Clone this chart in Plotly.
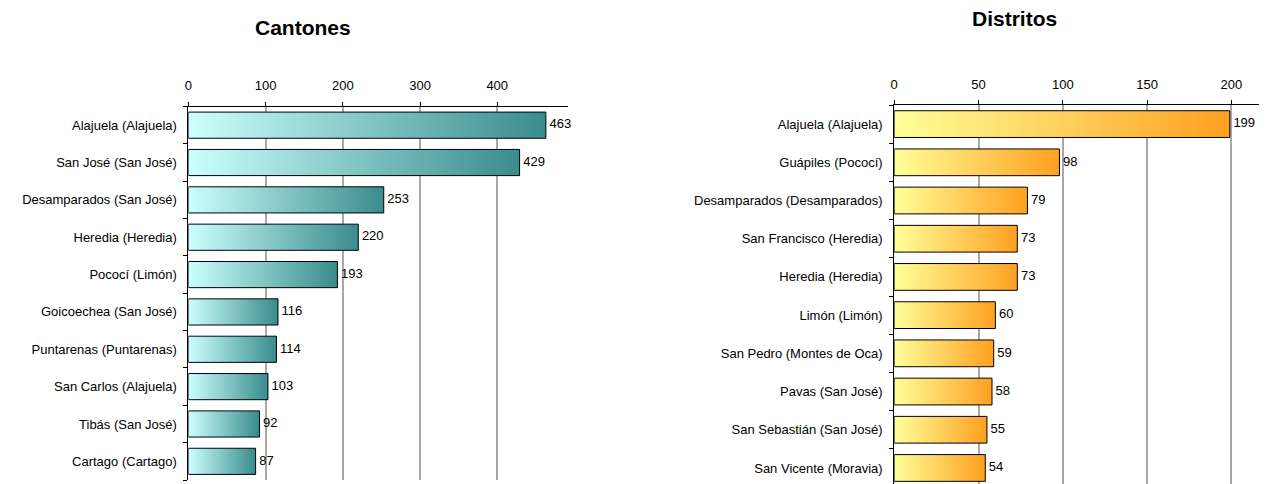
import plotly.graph_objects as go

# datos
cantones = ["Alajuela (Alajuela)", "San José (San José)", "Desamparados (San José)",
            "Heredia (Heredia)", "Pococí (Limón)", "Goicoechea (San José)",
            "Puntarenas (Puntarenas)", "San Carlos (Alajuela)", "Tibás (San José)",
            "Cartago (Cartago)"]
valores_cantones = [463, 429, 253, 220, 193, 116, 114, 103, 92, 87]

distritos = ["Alajuela (Alajuela)", "Guápiles (Pococí)", "Desamparados (Desamparados)",
             "San Francisco (Heredia)", "Heredia (Heredia)", "Limón (Limón)",
             "San Pedro (Montes de Oca)", "Pavas (San José)", "San Sebastián (San José)",
             "San Vicente (Moravia)"]
valores_distritos = [199, 98, 79, 73, 73, 60, 59, 58, 55, 54]

FONT = "Liberation Sans, Arial, sans-serif"
MEDIO = 0.35  # media altura de la barra
W, H = 1267, 484
OFF = 8  # margen del body en la pagina


def px_x(v):
    return (v - OFF) / W


def px_y(v):
    return 1 - (v - OFF) / H


fig = go.Figure()


def agregar_barras(nombres, valores, xa, ya, claro, oscuro):
    for i, v in enumerate(valores):
        fig.add_trace(go.Scatter(
            x=[0, v, v, 0, 0],
            y=[i - MEDIO, i - MEDIO, i + MEDIO, i + MEDIO, i - MEDIO],
            xaxis=xa, yaxis=ya, mode="lines", fill="toself",
            fillgradient=dict(type="horizontal", colorscale=[[0, claro], [1, oscuro]]),
            line=dict(color="black", width=1),
            name=nombres[i], hoverinfo="name+x",
        ))
    fig.add_trace(go.Scatter(
        x=valores, y=list(range(len(valores))), xaxis=xa, yaxis=ya,
        mode="text", text=["\u00a0" + str(v) for v in valores], textposition="middle right",
        textfont=dict(family=FONT, size=13, color="black"), hoverinfo="skip",
        cliponaxis=False,
    ))


agregar_barras(cantones, valores_cantones, "x", "y", "#ccffff", "#3a8c8c")
agregar_barras(distritos, valores_distritos, "x2", "y2", "#ffff99", "#ffa020")

eje_x = dict(side="top", ticks="outside", ticklen=4, tickcolor="black",
             showline=True, linecolor="black", linewidth=1,
             showgrid=True, gridcolor="#a8a8a8", gridwidth=1.5, zeroline=False,
             tickfont=dict(family=FONT, size=13, color="black"),
             ticklabelstandoff=6, fixedrange=True)

eje_y = dict(autorange=False, ticks="", showline=True, linecolor="black", linewidth=1,
             showgrid=False, zeroline=False,
             tickfont=dict(family=FONT, size=13, color="black"),
             ticklabelstandoff=8, fixedrange=True,
             minor=dict(tickmode="array", tickvals=[k - 0.5 for k in range(11)],
                        ticks="outside", ticklen=4, tickcolor="black", showgrid=False))

fig.update_layout(
    width=W, height=H,
    margin=dict(l=0, r=0, t=0, b=0),
    paper_bgcolor="white", plot_bgcolor="white",
    showlegend=False,
    font=dict(family=FONT, size=13, color="black"),
    xaxis=dict(eje_x, domain=[px_x(185), px_x(566)], range=[0, 492], dtick=100, anchor="y"),
    yaxis=dict(eje_y, domain=[px_y(480), px_y(106.5)], range=[9.5, -0.5],
               tickvals=list(range(len(cantones))), ticktext=cantones, anchor="x"),
    xaxis2=dict(eje_x, domain=[px_x(893), px_x(1266)], range=[0, 220.5], dtick=50, anchor="y2"),
    yaxis2=dict(eje_y, domain=[px_y(484), px_y(105)], range=[9.42, -0.5],
                tickvals=list(range(len(distritos))), ticktext=distritos, anchor="x2"),
    annotations=[
        dict(text="<b>Cantones</b>", x=px_x(300), y=px_y(27), xref="paper", yref="paper",
             xanchor="center", yanchor="middle", showarrow=False,
             font=dict(family=FONT, size=21, color="black")),
        dict(text="<b>Distritos</b>", x=px_x(1014), y=px_y(19), xref="paper", yref="paper",
             xanchor="center", yanchor="middle", showarrow=False,
             font=dict(family=FONT, size=21, color="black")),
    ],
)

fig.write_html("out.html")
